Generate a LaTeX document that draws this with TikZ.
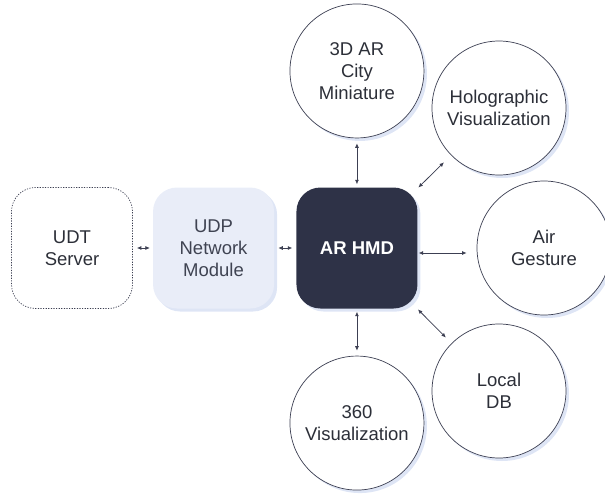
\documentclass[tikz,border=0pt]{standalone}
\usepackage{fontspec}
\setmainfont{Liberation Sans}
\usetikzlibrary{arrows.meta, shapes, positioning, shadows}

\definecolor{hmdnavy}{HTML}{2E3247}
\definecolor{udpfill}{HTML}{E9EDF8}
\definecolor{shadowblue}{HTML}{D6DFF3}
\definecolor{inkgray}{HTML}{2C2F38}
\definecolor{udptext}{HTML}{3F4352}
\definecolor{linegray}{HTML}{3C3F52}

\begin{document}
\begin{tikzpicture}[x=1pt, y=-1pt,
        box/.style={rectangle, rounded corners=24pt, minimum width=121pt, minimum height=121pt, inner sep=0pt, text centered, align=center, font=\fontsize{18.5}{22}\selectfont},
        bubble/.style={circle, draw=linegray, line width=0.7pt, fill=white, minimum size=134pt, inner sep=0pt, align=center, text=inkgray, font=\fontsize{18.5}{22}\selectfont, drop shadow={shadow xshift=3pt, shadow yshift=-3pt, fill=shadowblue, opacity=0.8}}, % soft blue shadow
        softshadow/.style={drop shadow={shadow xshift=3pt, shadow yshift=-3pt, fill=shadowblue, opacity=0.8}},
        arrow/.style={{Latex[length=4.5pt, width=4pt]}-{Latex[length=4.5pt, width=4pt]}, line width=0.75pt, draw=linegray},
        node distance=20pt
    ]
    \useasboundingbox (0,0) rectangle (605,496);

    % Nodes - left row (Left to Right)
    \node[box, draw=linegray, line width=0.7pt, dash pattern=on 1.2pt off 1.4pt, text=inkgray] (udt_server) at (72,248) {UDT\\ Server};

    \node[box, fill=udpfill, softshadow, text=udptext, right=20pt of udt_server] (udp_module) {UDP\\ Network\\ Module};

    \node[box, fill=hmdnavy, softshadow, text=white, font=\fontsize{18.5}{22}\selectfont\bfseries, right=22pt of udp_module] (ar_hmd) {AR HMD};

    % Nodes - devices around the HMD
    \node[bubble, above=49pt of ar_hmd] (city_mini) {3D AR\\ City\\ Miniature};
    \node[bubble] (holo_vis) at (499,108) {Holographic\\ Visualization};
    \node[bubble, right=59pt of ar_hmd] (air_gesture) {Air\\ Gesture};
    \node[bubble] (local_db) at (499,391) {Local\\ DB};
    \node[bubble, below=47pt of ar_hmd] (vis_360) {360\\ Visualization};

    % Connections
    \draw[arrow, shorten <=4pt, shorten >=3pt] (udt_server) -- (udp_module);
    \draw[arrow, shorten <=4pt, shorten >=4pt] (udp_module) -- (ar_hmd);
    \draw[arrow, shorten <=3pt, shorten >=5pt] (ar_hmd) -- (city_mini);
    \draw[arrow, shorten <=1pt, shorten >=10pt] (ar_hmd) -- (holo_vis);
    \draw[arrow, shorten <=1pt, shorten >=10pt] ([yshift=-5pt]ar_hmd.east) -- ([yshift=-5pt]air_gesture.west); % slightly below centre
    \draw[arrow, shorten <=1pt, shorten >=8pt] (ar_hmd) -- (local_db);
    \draw[arrow, shorten <=3pt, shorten >=5pt] (ar_hmd) -- (vis_360);

\end{tikzpicture}
\end{document}
